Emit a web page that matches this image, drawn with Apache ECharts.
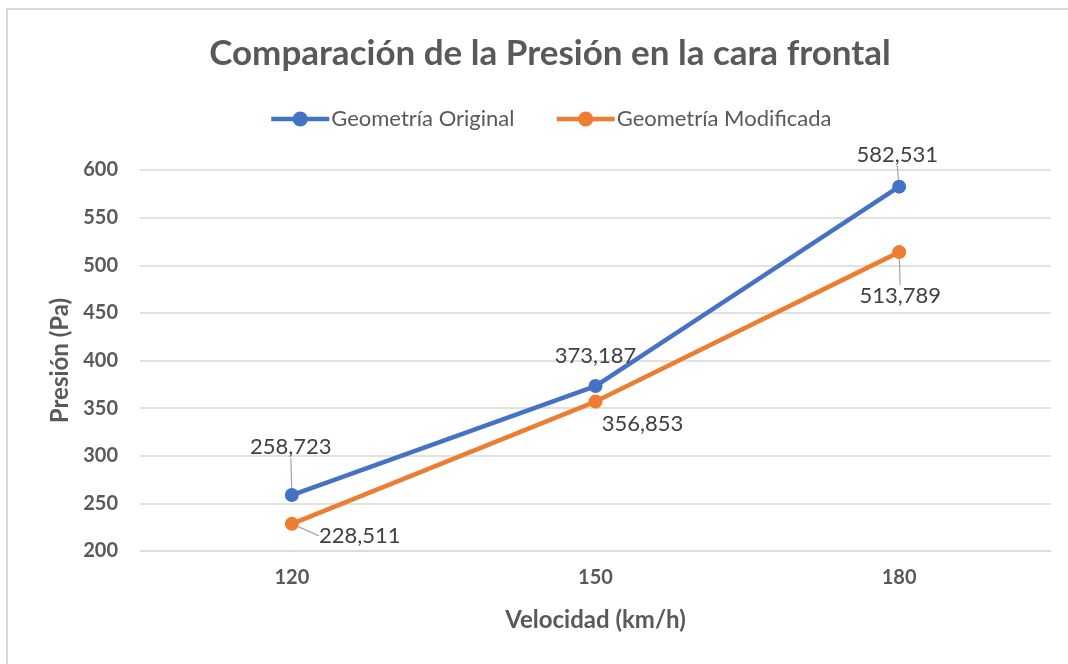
<!DOCTYPE html>
<html>
<head>
<meta charset="utf-8">
<script src="https://cdn.jsdelivr.net/npm/echarts@6/dist/echarts.min.js"></script>
<style>
  html, body { margin: 0; padding: 0; background: #ffffff; }
  #chart { width: 1068px; height: 664px; }
</style>
</head>
<body>
<div id="chart"></div>
<script>
// Velocidades (km/h)
const velocidades = ['120', '150', '180'];
// Presión en la cara frontal (Pa)
const presionOriginal = [258.723, 373.187, 582.531];
const presionModificada = [228.511, 356.853, 513.789];
const nombresSeries = ['Geometría Original', 'Geometría Modificada'];

// Desplazamiento de cada etiqueta respecto a su punto, y si lleva línea guía
const desplazamientos = [
  [[-1, -48, true], [0, -30, false], [-2, -32, true]],
  [[68, 12, true], [47, 22, false], [1, 44, true]]
];

const fuente = 'Lato, "Open Sans", sans-serif';
const gris = '#595959';

function fmt(v) {
  return v.toFixed(3).replace('.', ',');
}

function serie(nombre, datos, color, idx) {
  return {
    name: nombre,
    type: 'line',
    data: datos.map((v, i) => ({
      value: v,
      labelLine: { show: desplazamientos[idx][i][2] }
    })),
    symbol: 'circle',
    symbolSize: 14,
    color: color,
    lineStyle: { width: 4.5, color: color },
    itemStyle: { color: color },
    z: 3,
    label: {
      show: true,
      position: 'inside',
      formatter: p => fmt(p.value),
      fontFamily: fuente,
      fontSize: 22,
      color: '#404040'
    },
    labelLine: {
      show: true,
      lineStyle: { color: '#a6a6a6', width: 1.2 }
    },
    labelLayout: p => {
      const d = desplazamientos[idx][p.dataIndex];
      return { dx: d[0], dy: d[1] };
    }
  };
}

const chart = echarts.init(document.getElementById('chart'), null, { renderer: 'canvas' });
chart.setOption({
  backgroundColor: '#ffffff',
  animation: false,
  graphic: [{
    type: 'rect',
    shape: { x: 7, y: 9, width: 1200, height: 800 },
    style: { fill: 'transparent', stroke: '#d9d9d9', lineWidth: 2 },
    silent: true
  }],
  title: {
    text: 'Comparación de la Presión en la cara frontal',
    left: 545,
    textAlign: 'center',
    top: 31,
    textStyle: { fontFamily: fuente, fontSize: 35, fontWeight: 'bold', color: gris }
  },
  legend: {
    left: 264,
    top: 103,
    itemWidth: 58,
    itemHeight: 19,
    itemGap: 40,
    lineStyle: { width: 4.5 },
    textStyle: { fontFamily: fuente, fontSize: 22, color: gris, padding: [0, 0, 0, -3] },
    data: nombresSeries
  },
  grid: { left: 140, right: 17, top: 170, bottom: 113 },
  xAxis: {
    type: 'category',
    data: velocidades,
    boundaryGap: true,
    name: 'Velocidad (km/h)',
    nameLocation: 'middle',
    nameGap: 57,
    nameTextStyle: { fontFamily: fuente, fontSize: 24, fontWeight: 'bold', color: gris },
    axisLine: { show: true, lineStyle: { color: '#d9d9d9', width: 1.5 } },
    axisTick: { show: false },
    axisLabel: { margin: 17, fontFamily: fuente, fontSize: 20, fontWeight: 'bold', color: gris }
  },
  yAxis: {
    type: 'value',
    min: 200,
    max: 600,
    interval: 50,
    name: 'Presión (Pa)',
    nameLocation: 'middle',
    nameGap: 44,
    nameTextStyle: { fontFamily: fuente, fontSize: 24, fontWeight: 'bold', color: gris },
    axisLine: { show: false },
    axisTick: { show: false },
    splitLine: { lineStyle: { color: '#d9d9d9', width: 1.5 } },
    axisLabel: { margin: 22, fontFamily: fuente, fontSize: 20, fontWeight: 'bold', color: gris }
  },
  series: [
    serie(nombresSeries[0], presionOriginal, '#4472C4', 0),
    serie(nombresSeries[1], presionModificada, '#ED7D31', 1)
  ]
});
</script>
</body>
</html>
